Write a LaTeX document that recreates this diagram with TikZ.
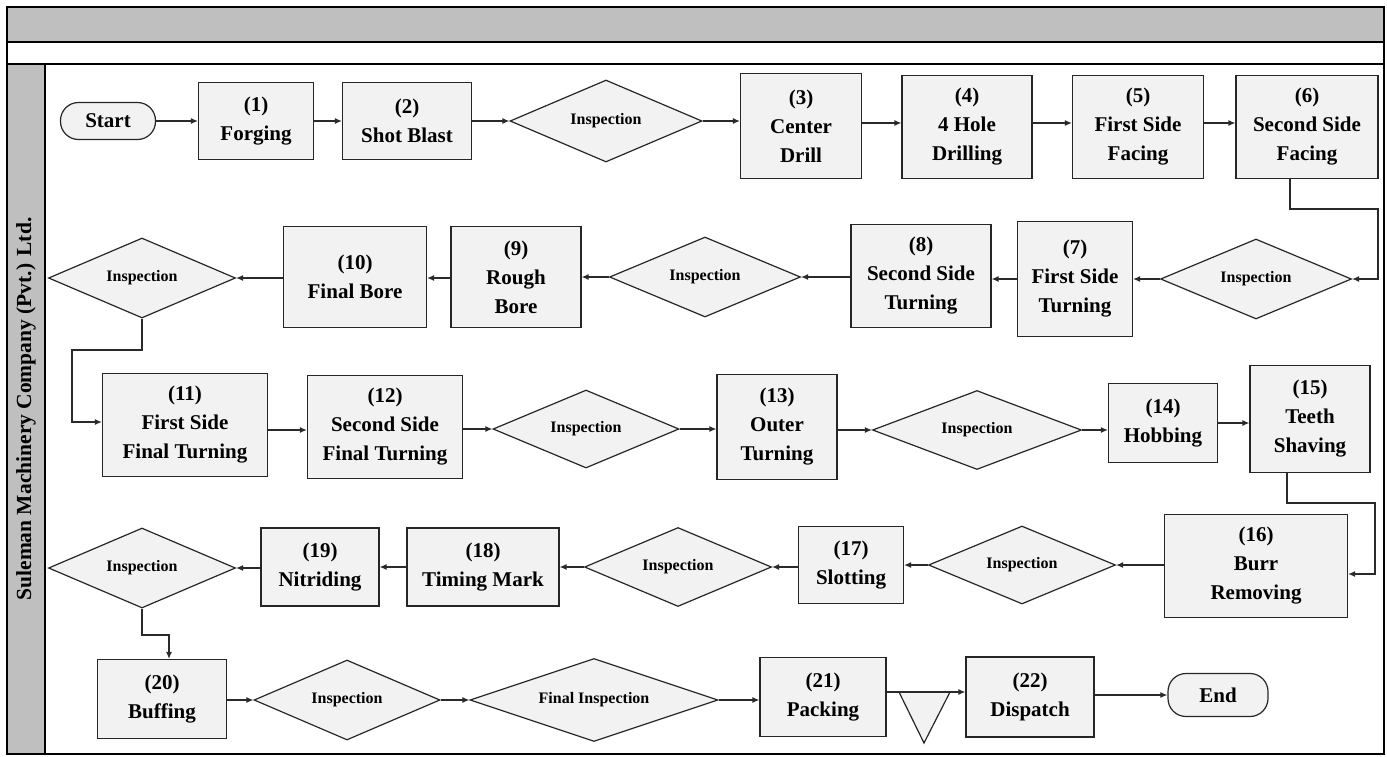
\documentclass[tikz,border=0pt]{standalone}
\usepackage{fontspec}
\setmainfont{Liberation Serif}
\usetikzlibrary{arrows.meta,shapes.geometric,calc}
\definecolor{boxfill}{HTML}{F2F2F2}
\definecolor{boxline}{HTML}{262626}
\definecolor{linecol}{HTML}{2A2A2A}
\definecolor{bandgray}{HTML}{BFBFBF}
\begin{document}
\begin{tikzpicture}[x=1pt,y=-1pt,
 box/.style={draw=boxline, fill=boxfill, line width=1.2pt, align=center, inner sep=0pt, font=\bfseries\fontsize{21}{29}\selectfont},
 dia/.style={diamond, draw=boxline, fill=boxfill, line width=1.2pt, inner sep=0pt, aspect=2.4, align=center, font=\bfseries\fontsize{16}{19}\selectfont},
 term/.style={box, rounded corners=18pt},
 arr/.style={draw=linecol, line width=1.2pt, -{Latex[length=7pt,width=6pt]}},
 ]
\useasboundingbox (0,0) rectangle (1387,756);
% frame
\fill[bandgray] (7,7) rectangle (1384,42);
\fill[bandgray] (7,64) rectangle (45,754);
\draw[line width=1.2pt] (7,7) rectangle (1384,754);
\draw[line width=2.5pt] (7,42) -- (1384,42);
\draw[line width=2.5pt] (7,64) -- (1384,64);
\draw[line width=1.2pt] (45,64) -- (45,754);
\draw[line width=2pt] (7,754) -- (1384,754);
\node[rotate=90, font=\bfseries\fontsize{21.5}{26}\selectfont] (lane) at (26,409) {Suleman Machinery Company (Pvt.) Ltd.};

% row 1
\node[term, minimum width=95pt, minimum height=37pt] (start) at (108,121) {Start};
\node[box, minimum width=115pt, minimum height=77pt] (n1) at (256,121) {(1)\\Forging};
\node[box, minimum width=129pt, minimum height=77pt] (n2) at (407,121) {(2)\\Shot Blast};
\node[dia, minimum width=192pt, minimum height=82pt] (i1) at (606,121) {Inspection};
\node[box, minimum width=121pt, minimum height=105pt] (n3) at (801,126) {(3)\\Center\\Drill};
\node[box, minimum width=130pt, minimum height=103pt] (n4) at (967,127) {(4)\\4 Hole\\Drilling};
\node[box, minimum width=131pt, minimum height=103pt] (n5) at (1138,127) {(5)\\First Side\\Facing};
\node[box, minimum width=142pt, minimum height=103pt] (n6) at (1307,127) {(6)\\Second Side\\Facing};

% row 2
\node[dia, minimum width=191pt, minimum height=80pt] (i2r) at (1256,279) {Inspection};
\node[box, minimum width=115pt, minimum height=115pt] (n7) at (1075,279) {(7)\\First Side\\Turning};
\node[box, minimum width=140pt, minimum height=103pt] (n8) at (921,276) {(8)\\Second Side\\Turning};
\node[dia, minimum width=191pt, minimum height=80pt] (i2m) at (705,277) {Inspection};
\node[box, minimum width=130pt, minimum height=101pt] (n9) at (516,277) {(9)\\Rough\\Bore};
\node[box, minimum width=143pt, minimum height=101pt] (n10) at (355,277) {(10)\\Final Bore};
\node[dia, minimum width=187pt, minimum height=80pt] (i2l) at (142,278) {Inspection};

% row 3
\node[box, minimum width=165pt, minimum height=103pt] (n11) at (185,425) {(11)\\First Side\\Final Turning};
\node[box, minimum width=155pt, minimum height=103pt] (n12) at (385,427) {(12)\\Second Side\\Final Turning};
\node[dia, minimum width=186pt, minimum height=78pt] (i3a) at (586,429) {Inspection};
\node[box, minimum width=120pt, minimum height=105pt] (n13) at (777,427) {(13)\\Outer\\Turning};
\node[dia, minimum width=209pt, minimum height=79pt] (i3b) at (977,430) {Inspection};
\node[box, minimum width=109pt, minimum height=79pt] (n14) at (1163,423) {(14)\\Hobbing};
\node[box, minimum width=120pt, minimum height=107pt] (n15) at (1310,419) {(15)\\Teeth\\Shaving};

% row 4
\node[box, minimum width=183pt, minimum height=103pt] (n16) at (1256,566) {(16)\\Burr\\Removing};
\node[dia, minimum width=187pt, minimum height=78pt] (i4a) at (1022,565) {Inspection};
\node[box, minimum width=105pt, minimum height=77pt] (n17) at (851,565) {(17)\\Slotting};
\node[dia, minimum width=187pt, minimum height=79pt] (i4b) at (678,567) {Inspection};
\node[box, minimum width=152pt, minimum height=78pt] (n18) at (483,567) {(18)\\Timing Mark};
\node[box, minimum width=118pt, minimum height=78pt] (n19) at (320,567) {(19)\\Nitriding};
\node[dia, minimum width=187pt, minimum height=80pt] (i4c) at (142,568) {Inspection};

% row 5
\node[box, minimum width=129pt, minimum height=79pt] (n20) at (162,699) {(20)\\Buffing};
\node[dia, minimum width=186pt, minimum height=80pt] (i5a) at (347,700) {Inspection};
\node[dia, minimum width=248pt, minimum height=83pt] (i5b) at (594,700) {Final Inspection};
\node[box, minimum width=126pt, minimum height=79pt] (n21) at (823,697) {(21)\\Packing};
\node[box, minimum width=128pt, minimum height=80pt] (n22) at (1030,697) {(22)\\Dispatch};
\node[term, minimum width=100pt, minimum height=43pt] (endn) at (1218,695) {End};
\coordinate (triL) at (899,692);
\coordinate (triR) at (950,692);
\coordinate (triB) at (924,743);
\draw[draw=boxline, fill=boxfill, line width=1.2pt] (triL) -- (triR) -- (triB) -- cycle;
\draw[line width=2.6pt, draw=linecol] (triL) -- (triR);

% connectors row 1
\draw[arr] (start.east) -- (n1.west |- start.east);
\draw[arr] (n1.east) -- (n2.west);
\draw[arr] (n2.east) -- (i1.west);
\draw[arr] (i1.east) -- (n3.west |- i1.east);
\draw[arr] (n3.east |- 0,123) -- (n4.west |- 0,123);
\draw[arr] (n4.east |- 0,123) -- (n5.west |- 0,123);
\draw[arr] (n5.east |- 0,123) -- (n6.west |- 0,123);
\draw[arr] (n6.south -| 1290,0) -- (1290,209) -- (1378,209) -- (1378,279) -- (i2r.east);

% row 2
\draw[arr] (i2r.west) -- (n7.east |- i2r.west);
\draw[arr] (n7.west |- 0,279) -- (n8.east |- 0,279);
\draw[arr] (n8.west |- i2m.east) -- (i2m.east);
\draw[arr] (i2m.west) -- (n9.east |- i2m.west);
\draw[arr] (n9.west |- 0,278) -- (n10.east |- 0,278);
\draw[arr] (n10.west |- i2l.east) -- (i2l.east);
\draw[arr] (i2l.south) -- (142,350) -- (72,350) -- (72,422) -- (n11.west |- 0,422);

% row 3
\draw[arr] (n11.east |- 0,430) -- (n12.west |- 0,430);
\draw[arr] (n12.east |- i3a.west) -- (i3a.west);
\draw[arr] (i3a.east) -- (n13.west |- i3a.east);
\draw[arr] (n13.east |- i3b.west) -- (i3b.west);
\draw[arr] (i3b.east) -- (n14.west |- i3b.east);
\draw[arr] (n14.east |- 0,423) -- (n15.west |- 0,423);
\draw[arr] (n15.south -| 1287,0) -- (1287,503) -- (1375,503) -- (1375,574) -- (n16.east |- 0,574);

% row 4
\draw[arr] (n16.west |- i4a.east) -- (i4a.east);
\draw[arr] (i4a.west) -- (n17.east |- i4a.west);
\draw[arr] (n17.west |- i4b.east) -- (i4b.east);
\draw[arr] (i4b.west) -- (n18.east |- i4b.west);
\draw[arr] (n18.west |- 0,567) -- (n19.east |- 0,567);
\draw[arr] (n19.west |- i4c.east) -- (i4c.east);
\draw[arr] (i4c.south) -- (142,635) -- (169,635) -- (n20.north -| 169,0);

% row 5
\draw[arr] (n20.east |- i5a.west) -- (i5a.west);
\draw[arr] (i5a.east) -- (i5b.west);
\draw[arr] (i5b.east) -- (n21.west |- i5b.east);
\draw[arr] (n21.east |- triL) -- (n22.west |- triL);
\draw[arr] (n22.east |- endn.west) -- (endn.west);
\end{tikzpicture}
\end{document}
